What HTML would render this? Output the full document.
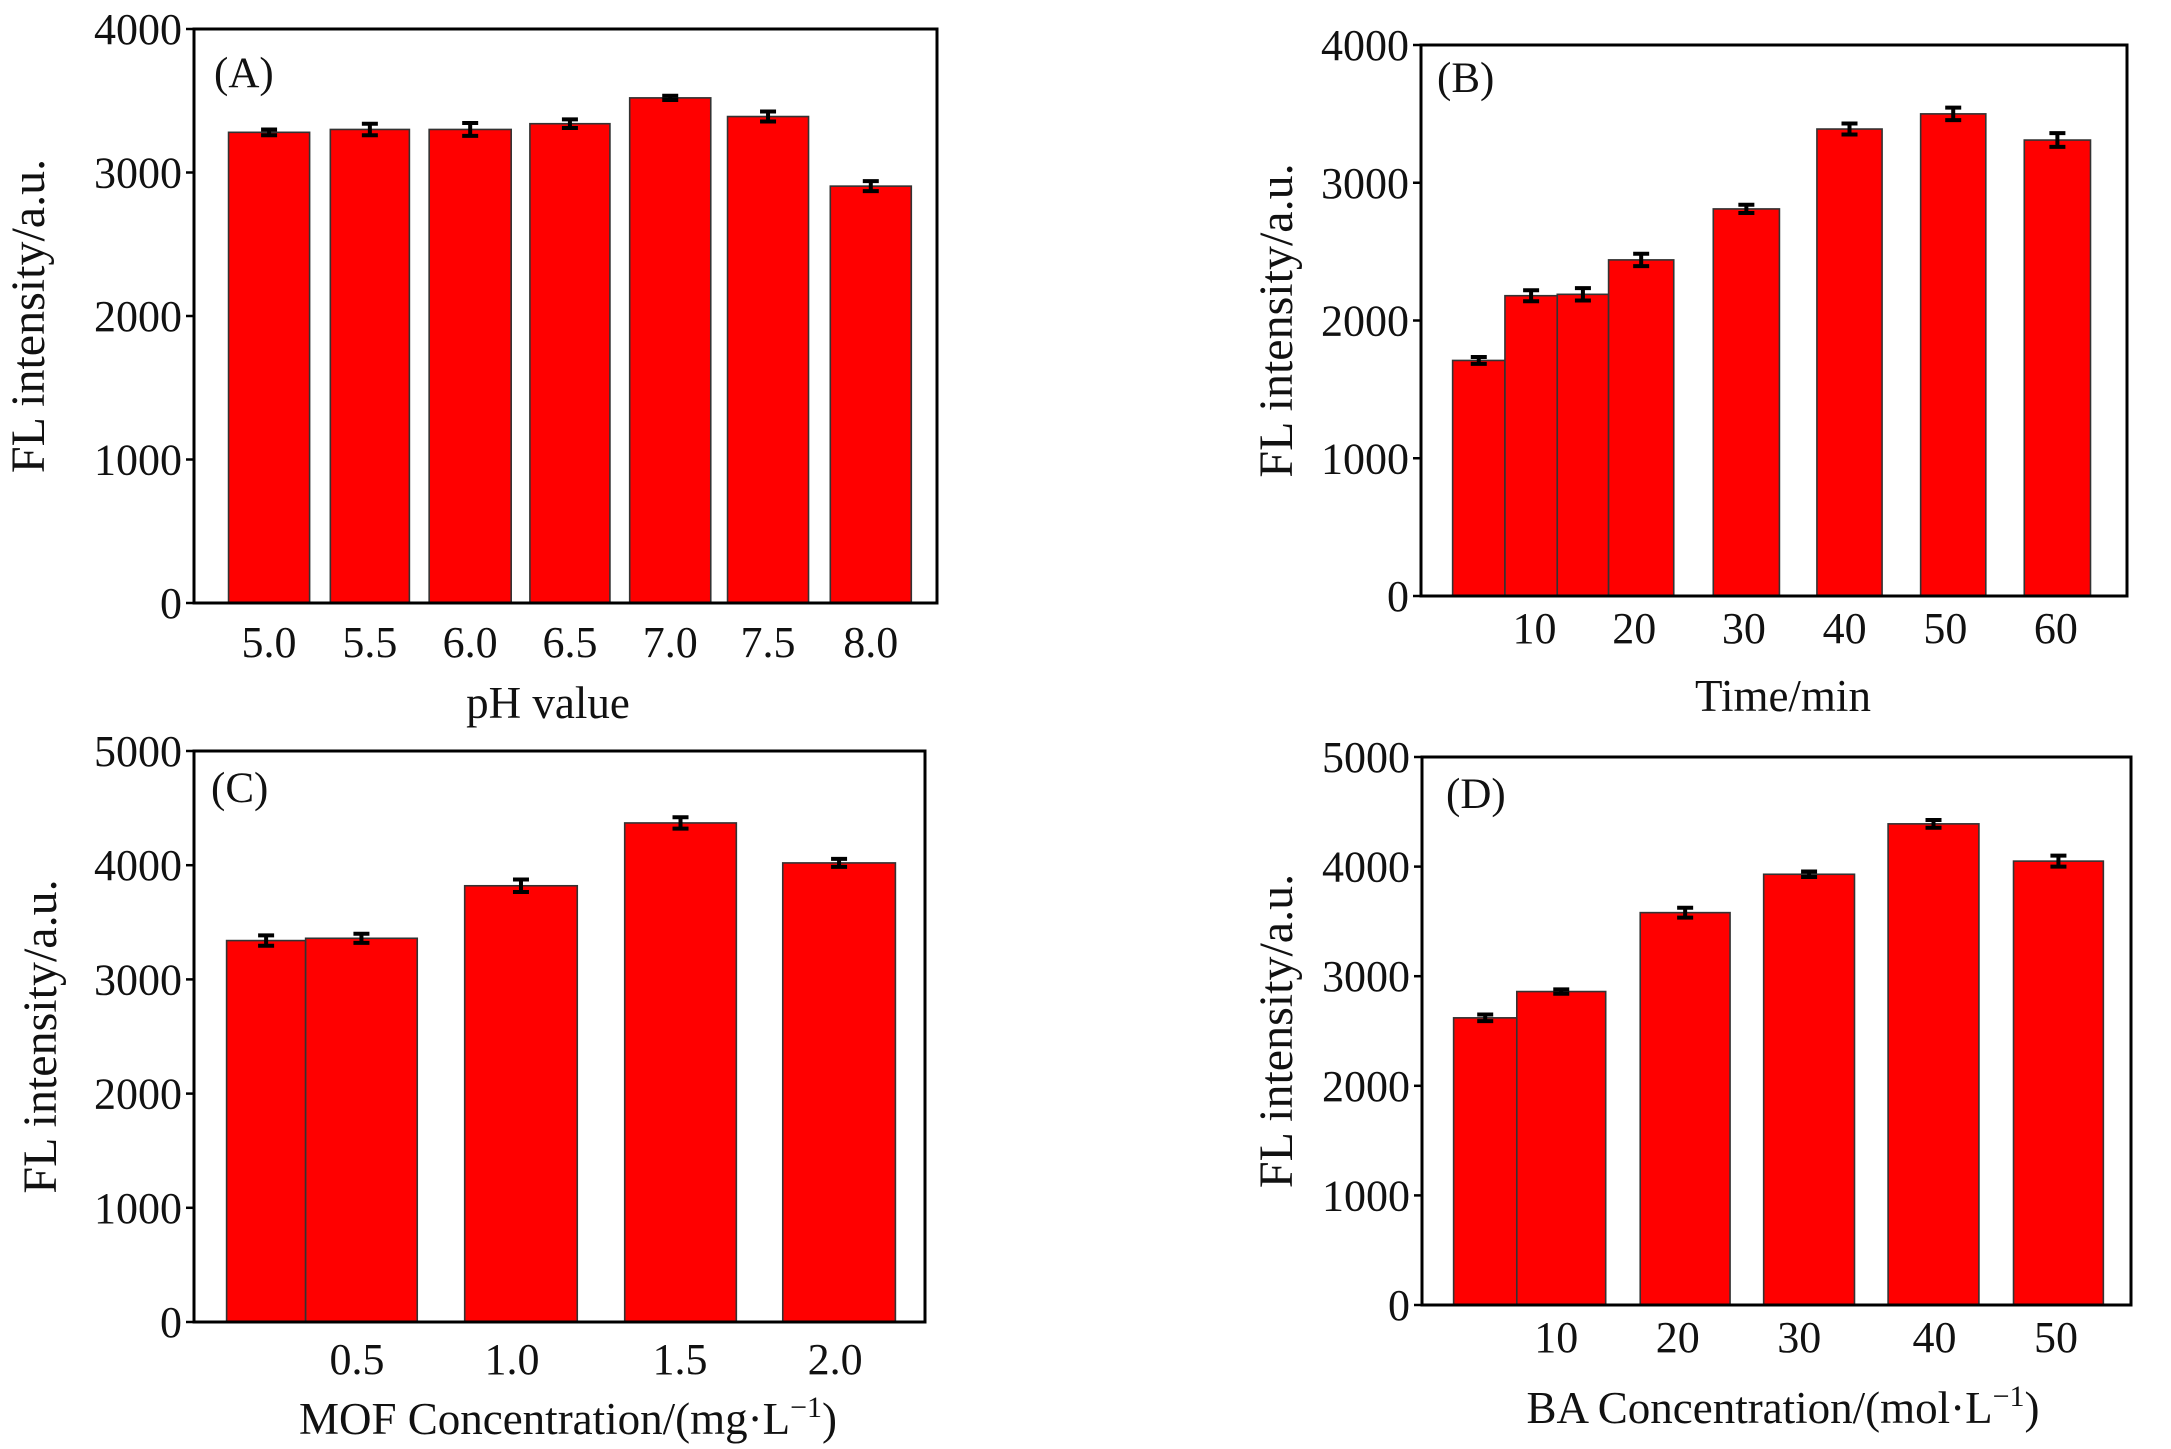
<!DOCTYPE html>
<html><head><meta charset="utf-8">
<style>
html,body{margin:0;padding:0;background:#fff;}
svg{display:block;font-family:"Liberation Serif","Times New Roman",serif;}
</style></head>
<body>
<svg id="fig" width="2171" height="1449" viewBox="0 0 2171 1449" xmlns="http://www.w3.org/2000/svg"></svg>
<script>
// ---- Panel A data ----
const aCats = ["5.0","5.5","6.0","6.5","7.0","7.5","8.0"];
const aVals = [3280,3300,3300,3340,3520,3390,2905];
const aErrs = [20,40,45,30,15,35,35];
const aLeft = [4.65,18.35,31.65,45.21,58.64,71.81,85.64];
const aRight = [15.56,28.99,42.69,55.98,69.55,82.71,96.54];
const aTickLabels = ["5.0","5.5","6.0","6.5","7.0","7.5","8.0"];
const aTickPos = [10.1,23.67,37.17,50.6,64.1,77.26,91.09];
const aYTicks = [0,1000,2000,3000,4000];
// ---- Panel B data ----
const bCats = ["5","10","15","20","30","40","50","60"];
const bVals = [1710,2180,2190,2440,2810,3390,3500,3310];
const bErrs = [25,40,45,45,30,40,45,50];
const bLeft = [4.48,11.89,19.30,26.57,41.40,56.08,70.77,85.45];
const bRight = [11.89,19.30,26.57,35.80,50.77,65.31,80.0,94.83];
const bTickLabels = ["10","20","30","40","50","60"];
const bTickPos = [16.08,30.21,45.73,60.0,74.27,89.93];
const bYTicks = [0,1000,2000,3000,4000];
// ---- Panel C data ----
const cCats = ["0.25","0.5","1.0","1.5","2.0"];
const cVals = [3340,3360,3820,4370,4020];
const cErrs = [45,40,55,50,35];
const cLeft = [4.46,15.27,37.03,58.92,80.54];
const cRight = [15.27,30.54,52.43,74.19,95.95];
const cTickLabels = ["0.5","1.0","1.5","2.0"];
const cTickPos = [22.30,43.51,66.49,87.70];
const cYTicks = [0,1000,2000,3000,4000,5000];
// ---- Panel D data ----
const dCats = ["5","10","20","30","40","50"];
const dVals = [2620,2860,3580,3930,4390,4050];
const dErrs = [30,20,45,25,35,50];
const dLeft = [4.46,13.37,30.78,48.19,65.74,83.43];
const dRight = [13.37,25.91,43.45,61.00,78.55,96.10];
const dTickLabels = ["10","20","30","40","50"];
const dTickPos = [18.94,36.07,53.20,72.28,89.42];
const dYTicks = [0,1000,2000,3000,4000,5000];

const NS = "http://www.w3.org/2000/svg";
const svg = document.getElementById("fig");
function mk(tag, attrs, parent){
  const e = document.createElementNS(NS, tag);
  for (const k in attrs) e.setAttribute(k, attrs[k]);
  (parent||svg).appendChild(e);
  return e;
}

function panel(id, fr, ymax, cats, vals, errs, left, right, tickLabels, tickPos, yTicks, xTitleHTML, xTitleY, xTitleX, yTitleX, letterPos, tickLabelY){
  const g = mk("g", {});
  
  
  const xs = u => fr.x0 + (fr.x1 - fr.x0) * u / 100;
  const ys = v => fr.y1 - (fr.y1 - fr.y0) * v / ymax;
  for (let i = 0; i < vals.length; i++) {
    const r = mk("rect", {x: xs(left[i]), y: ys(vals[i]), width: xs(right[i]) - xs(left[i]), height: ys(0) - ys(vals[i]), fill: "#ff0000", stroke: "#333", "stroke-width": 1.6}, g);
    
    
    const cx = (xs(left[i]) + xs(right[i])) / 2;
    const eb = mk("path", {d: `M${cx},${ys(vals[i]+errs[i])}V${ys(vals[i]-errs[i])}M${cx-8},${ys(vals[i]+errs[i])}H${cx+8}M${cx-8},${ys(vals[i]-errs[i])}H${cx+8}`, stroke: "#000", "stroke-width": 4, fill: "none"}, g);
    
    
  }
  const f = mk("rect", {x: fr.x0, y: fr.y0, width: fr.x1 - fr.x0, height: fr.y1 - fr.y0, fill: "none", stroke: "#000", "stroke-width": 3}, g);
  
  
  for (const t of yTicks) {
    const y = ys(t);
    const tl = mk("line", {x1: fr.x0 - 8, x2: fr.x0, y1: y, y2: y, stroke: "#000", "stroke-width": 2.5}, g);
    
    
    const tx = mk("text", {x: fr.x0 - 12, y: y + 15, "text-anchor": "end", "font-size": 44, fill: "#111"}, g);
    tx.textContent = t;
    
    
  }
  for (let i = 0; i < tickLabels.length; i++) {
    const tx = mk("text", {x: xs(tickPos[i]), y: tickLabelY + 15, "text-anchor": "middle", "font-size": 44, fill: "#111"}, g);
    tx.textContent = tickLabels[i];
    
    
  }
  const xt = mk("text", {x: xTitleX, y: xTitleY + 15, "text-anchor": "middle", "font-size": 45, fill: "#111"}, g);
  xt.innerHTML = xTitleHTML;
  
  
  const cy = (fr.y0 + fr.y1) / 2;
  const yt = mk("text", {x: 0, y: 0, "text-anchor": "middle", "font-size": 48, fill: "#111", transform: `translate(${yTitleX + 16},${cy}) rotate(-90)`}, g);
  yt.textContent = "FL intensity/a.u.";
  
  
  const lt = mk("text", {x: letterPos[0], y: letterPos[1] + 15, "font-size": 43, fill: "#111"}, g);
  lt.textContent = "(" + id + ")";
  
  
}

panel("A", {x0:194,x1:937,y0:29,y1:603}, 4000, aCats, aVals, aErrs, aLeft, aRight, aTickLabels, aTickPos, aYTicks,
  "pH value", 703, 548, 28, [214,72], 642);
panel("B", {x0:1421,x1:2127,y0:45,y1:596}, 4000, bCats, bVals, bErrs, bLeft, bRight, bTickLabels, bTickPos, bYTicks,
  "Time/min", 696, 1783, 1276, [1437,77], 628);
panel("C", {x0:194,x1:925,y0:751,y1:1322}, 5000, cCats, cVals, cErrs, cLeft, cRight, cTickLabels, cTickPos, cYTicks,
  'MOF Concentration/(mg·L<tspan dy="-17" font-size="30">−1</tspan><tspan dy="17">)</tspan>', 1419, 568, 40, [211,787], 1359);
panel("D", {x0:1422,x1:2131,y0:757,y1:1305}, 5000, dCats, dVals, dErrs, dLeft, dRight, dTickLabels, dTickPos, dYTicks,
  'BA Concentration/(mol·L<tspan dy="-17" font-size="30">−1</tspan><tspan dy="17">)</tspan>', 1408, 1783, 1276, [1446,793], 1337);
</script>
</body></html>
